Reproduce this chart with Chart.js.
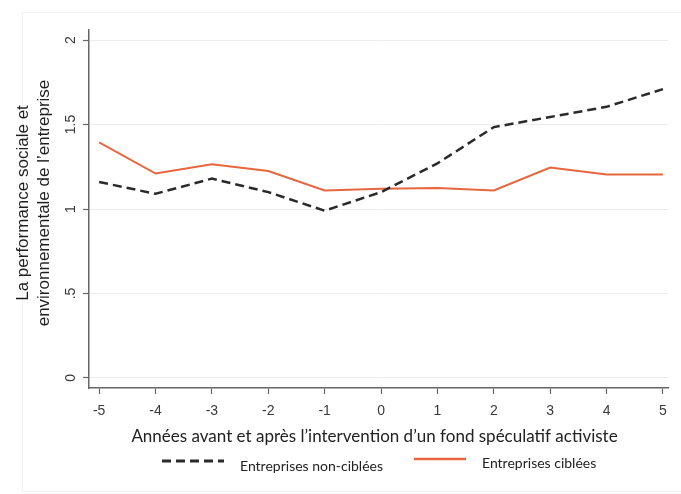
<!DOCTYPE html>
<html>
<head>
<meta charset="utf-8">
<script src="https://cdn.jsdelivr.net/npm/chart.js@4.4.1/dist/chart.umd.min.js"></script>
<style>
  html, body { margin: 0; padding: 0; background: #fff; }
  #wrap { width: 681px; height: 494px; position: relative; }
</style>
</head>
<body>
<div id="wrap"><canvas id="chart"></canvas></div>
<script>
// années relatives à l'intervention
const years = [-5, -4, -3, -2, -1, 0, 1, 2, 3, 4, 5];
const nonCiblees = [1.16, 1.09, 1.18, 1.10, 0.99, 1.10, 1.27, 1.485, 1.545, 1.605, 1.71];
const ciblees = [1.395, 1.21, 1.265, 1.225, 1.11, 1.12, 1.125, 1.11, 1.245, 1.205, 1.205];
const yTicks = [0, 0.5, 1, 1.5, 2];
const yTickLabels = ["0", ".5", "1", "1.5", "2"];
const yTitle = ["La performance sociale et", "environnementale de l\u2019entreprise"];
const xTitle = "Ann\u00e9es avant et apr\u00e8s l\u2019intervention d\u2019un fond sp\u00e9culatif activiste";
const legendLabels = ["Entreprises non-cibl\u00e9es", "Entreprises cibl\u00e9es"];

const ORANGE = "#e8663e";
const DARK = "#2a2a2a";

const toPoints = (vals) => years.map((yr, i) => ({ x: yr, y: vals[i] }));

const frame = {
  id: "frame",
  beforeDraw(chart) {
    const { ctx } = chart;
    ctx.save();
    ctx.strokeStyle = "#f1f1f1";
    ctx.lineWidth = 1;
    ctx.strokeRect(22.5, 12.5, 700, 479);
    ctx.restore();
  },
};

const axisText = {
  id: "axisText",
  afterDraw(chart) {
    const { ctx, scales } = chart;
    const x = scales.x;
    const y = scales.y;
    const area = chart.chartArea;
    ctx.save();
    ctx.fillStyle = "#3a3a3a";
    ctx.textAlign = "center";
    ctx.textBaseline = "middle";

    // y tick labels, rotated
    ctx.font = "14px 'Liberation Sans', Arial, sans-serif";
    yTicks.forEach((v, i) => {
      ctx.save();
      ctx.translate(71, y.getPixelForValue(v));
      ctx.rotate(-Math.PI / 2);
      ctx.fillText(yTickLabels[i], 0, 0);
      ctx.restore();
    });

    // x tick labels
    years.forEach((v) => {
      ctx.fillText(String(v), x.getPixelForValue(v), 411);
    });

    // y title
    ctx.fillStyle = "#1e1e1e";
    ctx.font = "17px 'Liberation Sans', Arial, sans-serif";
    ctx.save();
    ctx.translate(0, 203);
    ctx.rotate(-Math.PI / 2);
    ctx.fillText(yTitle[0], 0, 23);
    ctx.fillText(yTitle[1], 0, 44);
    ctx.restore();

    // x title
    ctx.fillStyle = "#222";
    ctx.font = "17px Lato, 'Open Sans', sans-serif";
    ctx.fillText(xTitle, (area.left + area.right) / 2 - 4, 437);

    // legend
    const ds = chart.data.datasets;
    const items = [
      { x0: 162, x1: 224, ly: 461, tx: 240, ty: 466 },
      { x0: 414, x1: 466, ly: 459, tx: 482, ty: 463 },
    ];
    ctx.font = "14px Lato, 'Open Sans', sans-serif";
    ctx.textAlign = "left";
    items.forEach((it, i) => {
      ctx.save();
      ctx.strokeStyle = ds[i].borderColor;
      ctx.lineWidth = ds[i].borderWidth + 0.5;
      ctx.setLineDash(ds[i].borderDash || []);
      ctx.beginPath();
      ctx.moveTo(it.x0, it.ly);
      ctx.lineTo(it.x1, it.ly);
      ctx.stroke();
      ctx.restore();
      ctx.fillStyle = "#222";
      ctx.fillText(legendLabels[i], it.tx, it.ty);
    });
    ctx.restore();
  },
};

new Chart(document.getElementById("chart"), {
  type: "line",
  data: {
    datasets: [
      {
        label: legendLabels[0],
        data: toPoints(nonCiblees),
        borderColor: DARK,
        borderWidth: 2.5,
        borderDash: [9, 5],
        pointRadius: 0,
        tension: 0,
      },
      {
        label: legendLabels[1],
        data: toPoints(ciblees),
        borderColor: ORANGE,
        borderWidth: 2,
        pointRadius: 0,
        tension: 0,
      },
    ],
  },
  options: {
    responsive: true,
    maintainAspectRatio: false,
    animation: false,
    layout: { padding: { left: 83, right: 13, top: 30, bottom: 100 } },
    plugins: {
      legend: { display: false },
      tooltip: { enabled: false },
    },
    scales: {
      x: {
        type: "linear",
        min: -5.18,
        max: 5.09,
        afterBuildTicks: (scale) => {
          scale.ticks = years.map((v) => ({ value: v }));
        },
        ticks: { display: false },
        grid: {
          drawOnChartArea: false,
          drawTicks: true,
          tickLength: 6,
          tickColor: "#666",
          tickWidth: 1.2,
        },
        border: { color: "#666", width: 1.5 },
      },
      y: {
        min: -0.06,
        max: 2.06,
        afterBuildTicks: (scale) => {
          scale.ticks = yTicks.map((v) => ({ value: v }));
        },
        ticks: { display: false },
        grid: {
          color: "#ececec",
          lineWidth: 1,
          drawTicks: true,
          tickLength: 6,
          tickColor: "#666",
          tickWidth: 1.2,
        },
        border: { color: "#666", width: 1.5 },
      },
    },
  },
  plugins: [frame, axisText],
});
</script>
</body>
</html>
